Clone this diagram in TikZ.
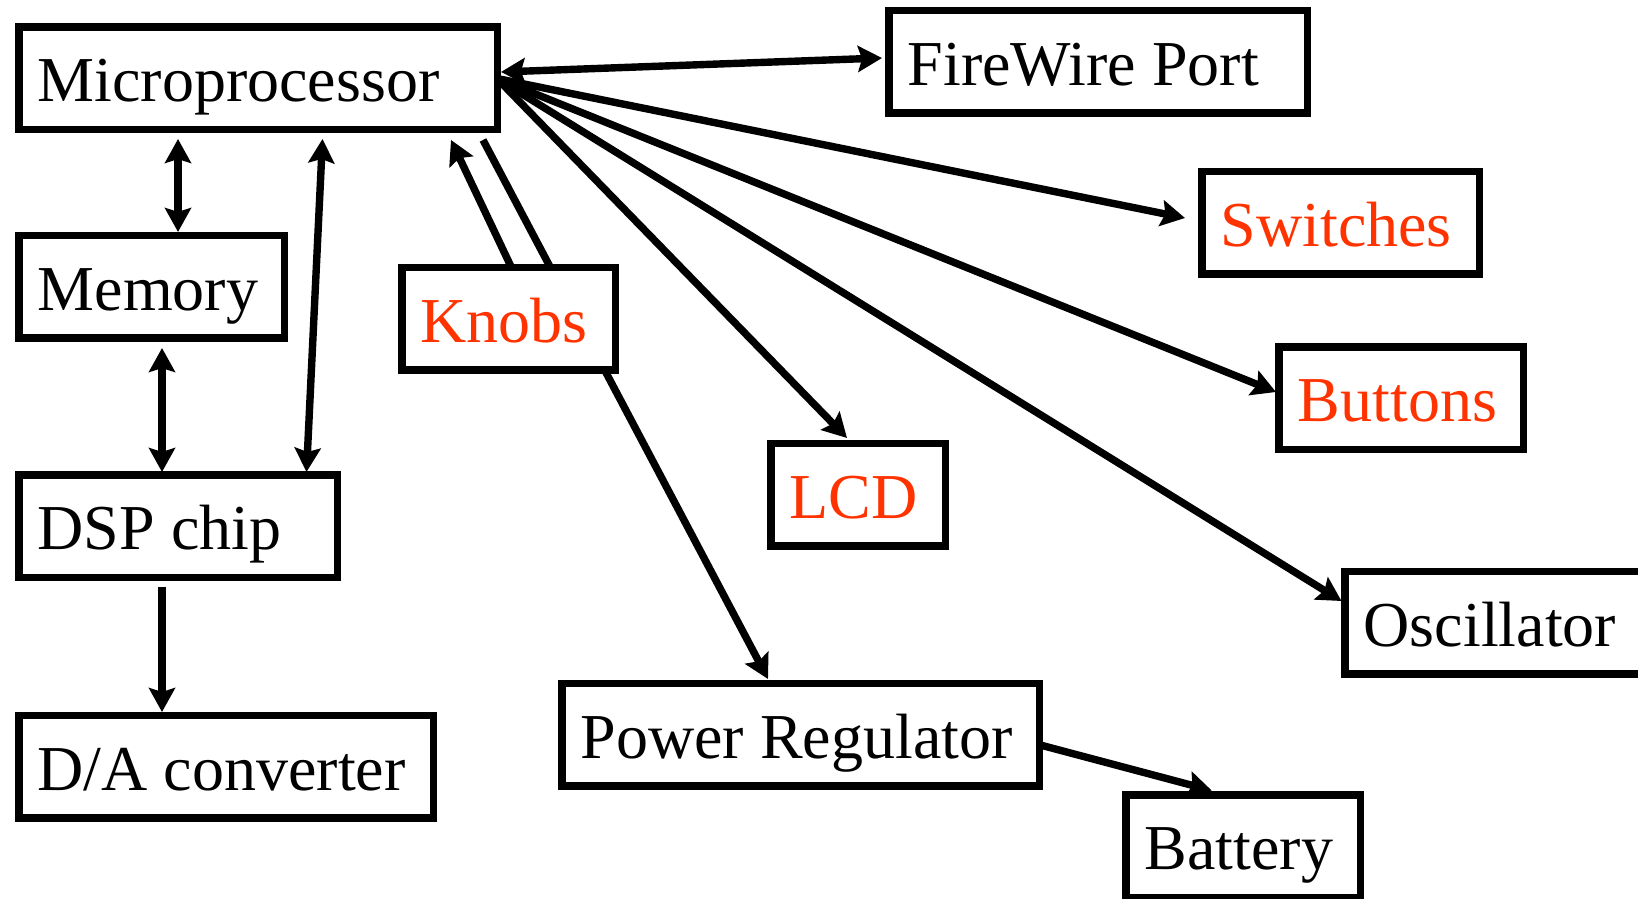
\documentclass[tikz,border=0pt]{standalone}
\usepackage{fontspec}
\setmainfont{Liberation Serif}
\usetikzlibrary{arrows.meta,backgrounds}
\definecolor{inputred}{RGB}{255,51,0}
% left-aligned label of fixed width, so the text never wraps
\newcommand{\fixedlabel}[2]{\makebox[#1][l]{#2}}

\begin{document}
\begin{tikzpicture}[x=0.5pt,y=-0.5pt,
  block/.style={draw, line width=3.75pt, fill=white, rectangle,
    minimum height=51.25pt, inner xsep=9.5pt, inner ysep=0pt,
    text height=30.5pt, text depth=7pt,
    font=\fontsize{32pt}{38pt}\selectfont},
  io/.style={block, text=inputred},
  link/.style={line width=3.7pt},
  tip/.style={link, -{Stealth[length=12pt,width=13pt,inset=2pt]}},
  both/.style={link, {Stealth[length=12pt,width=13pt,inset=2pt]}-{Stealth[length=12pt,width=13pt,inset=2pt]}}]
\useasboundingbox (0,0) rectangle (1638,899);
\clip (0,0) rectangle (1638,899);

% blocks
\node[block] (micro)    at (258,78.5)    {\fixedlabel{220.25pt}{Microprocessor}};
\node[block] (memory)   at (151.5,286.5) {\fixedlabel{113.75pt}{Memory}};
\node[block] (dsp)      at (178,526)     {\fixedlabel{140.25pt}{DSP chip}};
\node[block] (dac)      at (226,766.5)   {\fixedlabel{188.25pt}{D/A converter}};
\node[io]    (knobs)    at (508.5,318.5) {\fixedlabel{87.75pt}{Knobs}};
\node[block] (firewire) at (1098,62)     {\fixedlabel{190.25pt}{FireWire Port}};
\node[io]    (switches) at (1340.5,222.5){\fixedlabel{119.75pt}{Switches}};
\node[io]    (buttons)  at (1401,398)    {\fixedlabel{103.25pt}{Buttons}};
\node[io]    (lcd)      at (858,494.5)   {\fixedlabel{68.25pt}{LCD}};
\node[block] (osc)      at (1510.5,622.5){\fixedlabel{146.75pt}{Oscillator}};
\node[block] (power)    at (800.5,734.5) {\fixedlabel{219.75pt}{Power Regulator}};
\node[block] (battery)  at (1243,846)    {\fixedlabel{98.25pt}{Battery}};

% connector end points
\coordinate (fan)       at ([xshift=-2pt]micro.east);
\coordinate (mu-me-a)   at (178,139);
\coordinate (mu-me-b)   at (178,232);
\coordinate (me-dsp-a)  at (162,348);
\coordinate (me-dsp-b)  at (162,472);
\coordinate (mu-dsp-a)  at (322.5,139);
\coordinate (mu-dsp-b)  at (306.5,472);
\coordinate (dsp-da-a)  at (162,587);
\coordinate (dsp-da-b)  at (162,712);
\coordinate (kn-mu-a)   at (515,275);
\coordinate (kn-mu-b)   at (451,140);
\coordinate (mu-pw-a)   at (483,140);
\coordinate (mu-pw-b)   at (768,679);
\coordinate (mu-fw-a)   at (501,72);
\coordinate (mu-fw-b)   at (882,58);
\coordinate (mu-sw)     at (1185,218);
\coordinate (mu-lcd)    at (847,438);
\coordinate (mu-bt)     at (1276,392);
\coordinate (mu-osc)    at (1341.5,601);
\coordinate (pw-bat-a)  at (1035,743.6);
\coordinate (pw-bat-b)  at (1211.7,790.5);

\begin{pgfonlayer}{background}
  \draw[both] (mu-me-a) -- (mu-me-b);
  \draw[both] (me-dsp-a) -- (me-dsp-b);
  \draw[both] (mu-dsp-a) -- (mu-dsp-b);
  \draw[tip]  (dsp-da-a) -- (dsp-da-b);
  \draw[tip]  (kn-mu-a) -- (kn-mu-b);
  \draw[tip]  (mu-pw-a) -- (mu-pw-b);
  \draw[both] (mu-fw-a) -- (mu-fw-b);
  \draw[tip]  (fan) -- (mu-sw);
  \draw[tip]  (fan) -- (mu-lcd);
  \draw[tip]  (fan) -- (mu-bt);
  \draw[tip]  (fan) -- (mu-osc);
  \draw[tip]  (pw-bat-a) -- (pw-bat-b);
\end{pgfonlayer}
\end{tikzpicture}
\end{document}
